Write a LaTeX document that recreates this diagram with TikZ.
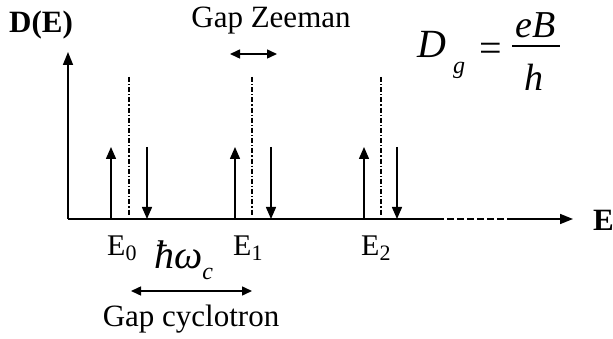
\documentclass[tikz,border=0pt]{standalone}
\usepackage{fontspec}
\setmainfont{Liberation Serif}
\usetikzlibrary{arrows.meta}
\tikzset{
  axis/.style={line width=1.6pt},
  spin/.style={line width=1.5pt,-{Triangle[length=12pt,width=10pt]}},
  gap/.style={line width=1.5pt,{Triangle[length=10pt,width=9pt]}-{Triangle[length=10pt,width=9pt]}},
  level/.style={line width=1.1pt,dash pattern=on 5pt off 2pt on 1.2pt off 2pt},
  lbl/.style={inner sep=0pt,anchor=base west,font=\fontsize{30}{30}\selectfont},
  bigl/.style={inner sep=0pt,anchor=base,font=\fontsize{31}{31}\selectfont},
  mathl/.style={inner sep=0pt,anchor=base west,font=\fontsize{38}{38}\selectfont\itshape},
}
\newcommand{\lowsub}[1]{\raisebox{-5pt}{\fontsize{22}{22}\selectfont #1}}
\begin{document}
\begin{tikzpicture}[x=1pt,y=-1pt]
\useasboundingbox (0,0) rectangle (613,339);
% axes
\coordinate (O) at (68,219);
\coordinate (Ytop) at (68,52);
\coordinate (Xa) at (437,219);
\coordinate (Xb) at (507,219);
\coordinate (Xend) at (573,219);
\draw[axis,-{Triangle[length=13pt,width=10pt]}] (O) -- (Ytop);
\draw[axis] (O) -- (Xa);
\draw[axis,dash pattern=on 7pt off 3pt] (Xa) -- (Xb);
\draw[axis,-{Triangle[length=13pt,width=10pt]}] (Xb) -- (Xend);
\node[inner sep=0pt,anchor=base west,font=\fontsize{31}{31}\selectfont\bfseries] (DE) at (9,33) {D(E)};
\node[inner sep=0pt,anchor=base west,font=\fontsize{31}{31}\selectfont\bfseries] (Elab) at (593,230) {E};
% levels
\foreach \n/\u/\l/\d in {0/111/129/147, 1/235/252/271, 2/364/381/397}{
  \coordinate (u\n a) at (\u,219); \coordinate (u\n b) at (\u,147);
  \coordinate (l\n a) at (\l,77);  \coordinate (l\n b) at (\l,216);
  \coordinate (d\n a) at (\d,147); \coordinate (d\n b) at (\d,219);
  \draw[spin] (u\n a) -- (u\n b);
  \draw[level] (l\n a) -- (l\n b);
  \draw[spin] (d\n a) -- (d\n b);
}
\node[lbl] (E0) at (107,255) {E\lowsub{0}};
\node[lbl] (E1) at (233,255) {E\lowsub{1}};
\node[lbl] (E2) at (361,255) {E\lowsub{2}};
% Zeeman gap
\node[bigl] (gz) at (271,28) {Gap Zeeman};
\coordinate (gza) at (230,54);
\coordinate (gzb) at (277,54);
\draw[gap] (gza) -- (gzb);
% cyclotron gap
\node[mathl,font=\fontsize{40}{40}\selectfont\itshape] (hw) at (154,269) {ħω\raisebox{-10pt}{\fontsize{24}{24}\selectfont c}};
\coordinate (gca) at (131,291);
\coordinate (gcb) at (252,291);
\draw[gap] (gca) -- (gcb);
\node[bigl] (gc) at (191,326) {Gap cyclotron};
% formula
\node[mathl,font=\fontsize{40}{40}\selectfont\itshape] (D) at (417,58) {D};
\node[inner sep=0pt,anchor=base west,font=\fontsize{24}{24}\selectfont\itshape] (g) at (453,74) {g};
\node[inner sep=0pt,anchor=base,font=\fontsize{40}{40}\selectfont] (eq) at (491,62) {=};
\coordinate (fa) at (512,46);
\coordinate (fb) at (560,46);
\draw[line width=1.5pt] (fa) -- (fb);
\node[mathl,anchor=base] (eB) at (536,38) {eB};
\node[mathl,anchor=base] (h) at (534,91) {h};
\end{tikzpicture}
\end{document}
